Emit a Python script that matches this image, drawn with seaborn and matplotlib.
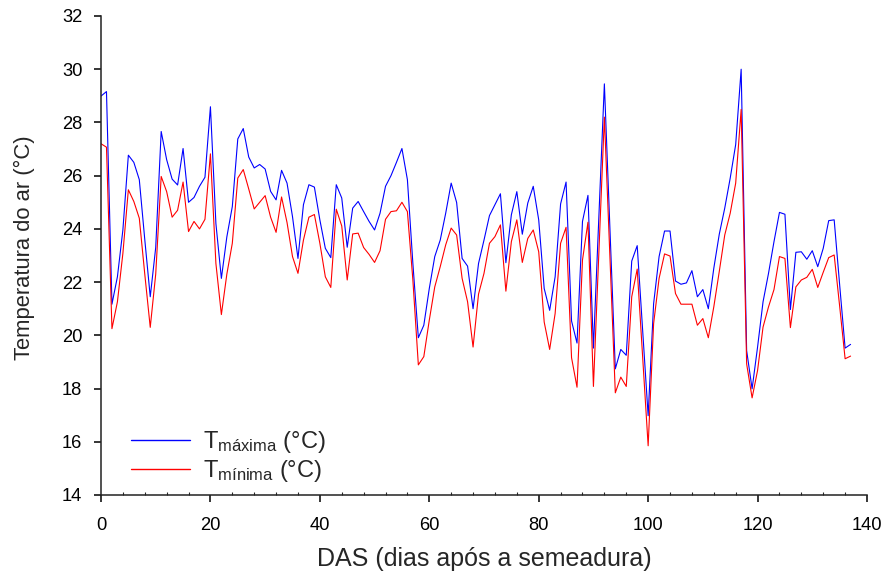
import numpy as np
import pandas as pd
import matplotlib
matplotlib.use("Agg")
import matplotlib.pyplot as plt
from matplotlib.ticker import MultipleLocator
import seaborn as sns

das = list(range(0, 138))
tmax = [28.99, 29.16, 21.17, 22.2, 23.96, 26.77, 26.5, 25.85, 23.6, 21.45,
        23.3, 27.66, 26.6, 25.87, 25.65, 27.02, 25.0, 25.18, 25.6, 25.94,
        28.59, 24.2, 22.14, 23.7, 24.84, 27.38, 27.77, 26.7, 26.29, 26.42,
        26.25, 25.41, 25.09, 26.2, 25.72, 24.46, 22.89, 24.91, 25.66, 25.57,
        24.34, 23.27, 22.92, 25.66, 25.16, 23.31, 24.78, 25.03, 24.65, 24.28,
        23.96, 24.59, 25.6, 26.0, 26.5, 27.02, 25.85, 22.7, 19.91, 20.38,
        21.76, 22.96, 23.58, 24.59, 25.72, 24.99, 22.89, 22.6, 21.0, 22.7,
        23.58, 24.5, 24.91, 25.32, 22.73, 24.53, 25.4, 23.8, 24.97, 25.6,
        24.34, 21.76, 20.94, 22.2, 24.94, 25.76, 20.54, 19.71, 24.28, 25.26,
        19.52, 24.5, 29.45, 24.1, 18.74, 19.47, 19.25, 22.79, 23.37, 20.19,
        16.98, 21.19, 22.96, 23.92, 23.92, 22.04, 21.92, 21.97, 22.43, 21.45,
        21.72, 21.0, 22.52, 23.8, 24.78, 25.91, 27.17, 30.0, 19.43, 17.99,
        19.56, 21.26, 22.33, 23.52, 24.62, 24.55, 20.97, 23.12, 23.14, 22.86,
        23.18, 22.58, 23.27, 24.31, 24.34, 21.9, 19.52, 19.66]
tmin = [27.2, 27.07, 20.25, 21.26, 23.08, 25.47, 25.03, 24.4, 22.3, 20.3,
        22.3, 25.97, 25.4, 24.44, 24.7, 25.76, 23.9, 24.28, 24.0, 24.36,
        26.82, 22.7, 20.78, 22.3, 23.46, 25.91, 26.23, 25.5, 24.75, 25.0,
        25.25, 24.44, 23.87, 25.2, 24.24, 22.96, 22.33, 23.58, 24.44, 24.54,
        23.46, 22.2, 21.8, 24.74, 24.11, 22.08, 23.81, 23.84, 23.3, 23.04,
        22.74, 23.18, 24.36, 24.65, 24.68, 25.0, 24.65, 22.08, 18.89, 19.2,
        20.57, 21.82, 22.58, 23.4, 24.03, 23.77, 22.14, 21.26, 19.56, 21.55,
        22.33, 23.46, 23.71, 24.15, 21.66, 23.52, 24.34, 22.74, 23.64, 23.96,
        23.14, 20.5, 19.47, 20.82, 23.46, 24.06, 19.16, 18.05, 22.83, 24.25,
        18.08, 23.1, 28.2, 23.0, 17.84, 18.43, 18.08, 21.45, 22.49, 19.18,
        15.85, 20.44, 22.14, 23.06, 22.98, 21.57, 21.17, 21.17, 21.17, 20.38,
        20.63, 19.91, 21.07, 22.4, 23.77, 24.59, 25.72, 28.49, 18.93, 17.65,
        18.68, 20.31, 21.07, 21.72, 22.96, 22.89, 20.29, 21.82, 22.08, 22.18,
        22.48, 21.8, 22.37, 22.92, 23.02, 21.1, 19.12, 19.22]

label_max = r"T$_{\mathregular{máxima}}$ (°C)"
label_min = r"T$_{\mathregular{mínima}}$ (°C)"
x_ticks = [0, 20, 40, 60, 80, 100, 120, 140]
y_ticks = [14, 16, 18, 20, 22, 24, 26, 28, 30, 32]

sns.set_style("ticks")
plt.rcParams["font.family"] = ["Liberation Sans", "DejaVu Sans"]
plt.rcParams["mathtext.fontset"] = "custom"
plt.rcParams["mathtext.rm"] = "Liberation Sans"
plt.rcParams["mathtext.it"] = "Liberation Sans:italic"

df = pd.DataFrame({
    "DAS": das * 2,
    "T": tmax + tmin,
    "serie": [label_max] * len(das) + [label_min] * len(das),
})

fig = plt.figure(figsize=(8.88, 5.76), dpi=100)
ax = fig.add_axes([101 / 888, 1 - 495 / 576, 766 / 888, 479 / 576])

sns.lineplot(data=df, x="DAS", y="T", hue="serie",
             palette={label_max: "#0000FF", label_min: "#FF0000"},
             linewidth=0.8, ax=ax, legend=True)

ax.set_xlim(0, 140)
ax.set_ylim(14, 32)
ax.set_xticks(x_ticks)
ax.set_yticks(y_ticks)
ax.xaxis.set_minor_locator(MultipleLocator(4))
ax.tick_params(axis="both", which="major", direction="out", length=5,
               width=1.1, labelsize=13.2, colors="black")
ax.tick_params(axis="x", which="major", pad=10.5)
ax.tick_params(axis="y", which="major", pad=8.5)
ax.tick_params(axis="x", which="minor", direction="in", length=2.5, width=0.8)
for s in ["top", "right"]:
    ax.spines[s].set_visible(False)
for s in ["left", "bottom"]:
    ax.spines[s].set_linewidth(1.1)
    ax.spines[s].set_color("#222222")

ax.set_xlabel("DAS (dias após a semeadura)", fontsize=18)
ax.set_ylabel("Temperatura do ar (°C)", fontsize=15.8)
ax.xaxis.set_label_coords(0.5007, -0.109)
ax.yaxis.set_label_coords(-0.086, 0.517)

leg = ax.legend(loc="lower left", bbox_to_anchor=(0.012, -0.022), frameon=False,
                fontsize=17, handlelength=2.5, handletextpad=0.55,
                labelspacing=0.12)
for line in leg.get_lines():
    line.set_linewidth(1.0)

fig.savefig("out.png", dpi=100)
